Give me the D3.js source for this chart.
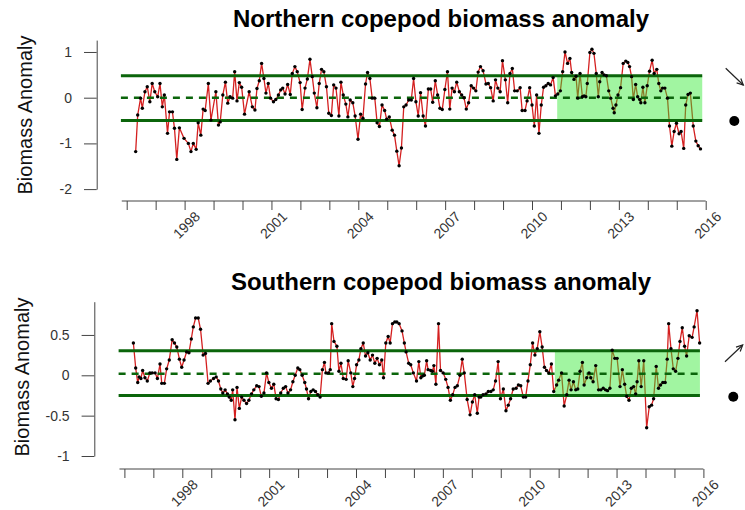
<!DOCTYPE html>
<html><head><meta charset="utf-8">
<script src="https://cdn.jsdelivr.net/npm/d3@7"></script>
<style>
html,body{margin:0;padding:0;background:#fff;}
svg{display:block;font-family:"Liberation Sans",Arial,sans-serif;}
</style></head>
<body>
<svg id="chart" width="745" height="510"></svg>
<script>
// ---------- data ----------
const northYears = [1996.31,1996.38,1996.48,1996.54,1996.63,1996.71,1996.80,1996.88,1996.97,1997.07,1997.15,1997.23,1997.30,1997.41,1997.48,1997.58,1997.65,1997.73,1997.82,1997.98,1998.13,1998.22,1998.30,1998.40,1998.47,1998.56,1998.64,1998.71,1998.82,1998.91,1999.08,1999.17,1999.23,1999.32,1999.41,1999.49,1999.57,1999.66,1999.73,1999.81,1999.89,1999.97,2000.07,2000.23,2000.34,2000.43,2000.50,2000.58,2000.66,2000.74,
2000.81,2000.89,2000.97,2001.07,2001.15,2001.24,2001.32,2001.39,2001.47,2001.56,2001.65,2001.72,2001.81,2001.89,2001.99,2002.06,2002.16,2002.24,2002.33,2002.41,2002.48,2002.57,2002.65,2002.73,2002.81,2002.90,2002.98,2003.07,2003.15,2003.23,2003.33,2003.40,2003.48,2003.57,2003.64,2003.72,2003.81,2003.89,2003.99,2004.08,2004.16,2004.25,2004.32,2004.40,2004.48,2004.57,2004.65,2004.73,2004.82,2004.91,2004.98,2005.07,2005.17,2005.25,2005.33,2005.41,2005.49,2005.57,2005.65,2005.74,2005.83,2005.91,
2005.99,2006.07,2006.15,2006.24,2006.32,2006.42,2006.50,2006.57,2006.66,2006.74,2006.82,2006.90,2006.99,2007.08,2007.16,2007.24,2007.32,2007.40,2007.49,2007.57,2007.65,2007.73,2007.81,2007.90,2007.98,2008.06,2008.14,2008.22,2008.31,2008.41,2008.49,2008.57,2008.66,2008.74,2008.82,2008.90,2008.98,2009.08,2009.16,2009.24,2009.32,2009.40,2009.49,2009.59,2009.66,2009.76,2009.83,2009.92,2010.00,2010.08,2010.16,2010.24,2010.32,2010.40,2010.48,2010.56,2010.64,2010.73,2010.81,2010.89,2010.98,2011.06,2011.14,
2011.23,2011.31,2011.37,2011.45,2011.52,2011.58,2011.66,2011.74,2011.80,2011.86,2011.91,2012.00,2012.07,2012.14,2012.22,2012.29,2012.34,2012.42,2012.49,2012.57,2012.65,2012.72,2012.80,2012.84,2012.90,2012.97,2013.06,2013.15,2013.24,2013.31,2013.37,2013.44,2013.50,2013.58,2013.65,2013.72,2013.76,2013.83,2013.90,2013.98,2014.06,2014.15,2014.22,2014.31,2014.38,2014.45,2014.51,2014.59,2014.68,2014.75,2014.83,2014.91,2014.99,2015.08,2015.15,2015.24,2015.31,2015.39,2015.47,2015.57,2015.66,2015.74,2015.82];
const northValues = [-1.18,-0.38,-0.01,-0.23,0.13,0.24,-0.09,0.31,0.13,0.02,0.31,-0.20,0.06,-0.78,-0.31,-0.31,-0.67,-1.35,-0.66,-0.89,-1.00,-1.18,-1.00,-1.13,-0.55,-0.82,-0.25,-0.28,0.31,-0.49,0.13,-0.60,-0.53,0.06,0.34,-0.12,0.02,-0.01,0.57,-0.07,0.33,0.23,-0.36,0.13,-0.20,-0.27,0.20,0.37,0.75,0.42,
0.10,0.31,-0.01,-0.09,-0.04,0.06,0.17,0.21,0.08,0.29,0.07,0.53,0.68,0.57,0.33,-0.26,0.21,0.41,0.84,0.46,0.10,-0.22,0.31,0.62,0.57,0.24,-0.34,-0.39,0.28,0.21,-0.40,0.34,0.06,-0.14,-0.42,-0.05,-0.11,-0.40,-0.91,-0.36,-0.45,0.30,0.55,0.42,-0.01,-0.01,-0.55,-0.63,-0.16,-0.28,-0.47,-0.42,-0.71,-0.82,-1.17,-1.49,-1.10,-0.20,-0.16,-0.05,-0.05,0.42,
-0.09,-0.40,0.11,-0.40,-0.62,0.19,0.19,-0.10,0.37,0.06,-0.23,-0.26,0.18,0.57,-0.25,0.21,0.13,0.34,0.13,0.06,0.00,-0.25,-0.11,0.26,0.21,0.15,0.56,0.68,0.59,0.30,0.31,0.22,-0.07,0.39,0.21,0.13,0.81,0.39,-0.11,0.53,0.64,0.15,0.15,0.22,-0.28,-0.28,-0.07,0.22,-0.16,-0.62,0.06,-0.78,-0.16,0.23,0.26,0.31,0.28,0.44,0.04,0.08,0.15,0.57,1.00,
0.75,0.86,0.55,0.40,0.47,-0.01,0.53,0.02,0.04,0.02,0.31,0.99,1.06,0.97,0.53,0.02,0.35,0.55,0.50,0.48,0.15,-0.01,-0.23,-0.33,-0.16,0.06,0.22,0.75,0.80,0.77,0.68,0.46,-0.04,0.29,0.02,-0.04,-0.11,0.23,-0.11,0.26,0.58,0.82,0.53,0.62,0.31,0.15,0.21,0.21,-0.01,-0.62,-1.06,-0.74,-0.56,-0.79,-0.74,-1.11,-0.16,0.07,0.10,-0.62,-0.95,-1.05,-1.12];

const southYears = [1996.31,1996.39,1996.46,1996.51,1996.57,1996.63,1996.71,1996.79,1996.88,1996.96,1997.06,1997.14,1997.23,1997.29,1997.38,1997.46,1997.55,1997.65,1997.73,1997.81,1997.90,1997.98,1998.06,1998.15,1998.23,1998.31,1998.38,1998.46,1998.55,1998.63,1998.72,1998.80,1998.89,1998.97,1999.08,1999.17,1999.25,1999.33,1999.40,1999.48,1999.56,1999.62,1999.69,1999.74,1999.82,1999.89,1999.97,2000.05,2000.13,2000.22,2000.30,2000.39,2000.47,2000.57,2000.65,2000.73,
2000.82,2000.91,2000.99,2001.08,2001.16,2001.24,2001.32,2001.40,2001.49,2001.57,2001.65,2001.74,2001.82,2001.90,2001.99,2002.06,2002.14,2002.23,2002.29,2002.36,2002.44,2002.52,2002.60,2002.68,2002.76,2002.84,2002.91,2002.96,2003.05,2003.11,2003.16,2003.24,2003.34,2003.41,2003.48,2003.56,2003.66,2003.73,2003.82,2003.89,2003.95,2004.02,2004.10,2004.17,2004.25,2004.33,2004.41,2004.49,2004.57,2004.65,2004.73,2004.81,2004.89,2004.95,2005.03,2005.11,2005.18,2005.26,2005.34,2005.41,2005.49,2005.59,2005.67,2005.73,2005.82,2005.89,2005.98,
2006.09,2006.17,2006.24,2006.30,2006.36,2006.44,2006.49,2006.58,2006.64,2006.69,2006.76,2006.85,2006.92,2007.01,2007.10,2007.18,2007.26,2007.34,2007.42,2007.50,2007.59,2007.67,2007.74,2007.84,2007.94,2008.02,2008.10,2008.19,2008.25,2008.31,2008.39,2008.49,2008.57,2008.66,2008.74,2008.82,2008.91,2008.99,2009.09,2009.18,2009.26,2009.34,2009.43,2009.53,2009.61,2009.69,2009.78,2009.86,2009.94,2010.02,2010.10,2010.18,2010.26,2010.35,2010.43,2010.51,2010.58,2010.66,2010.75,2010.83,2010.93,2011.00,2011.10,2011.19,
2011.28,2011.36,2011.43,2011.51,2011.59,2011.66,2011.74,2011.82,2011.88,2011.97,2012.05,2012.11,2012.19,2012.28,2012.38,2012.46,2012.54,2012.62,2012.69,2012.77,2012.85,2012.94,2013.02,2013.12,2013.20,2013.28,2013.35,2013.43,2013.51,2013.59,2013.66,2013.71,2013.77,2013.85,2013.94,2014.04,2014.13,2014.21,2014.28,2014.37,2014.45,2014.52,2014.60,2014.68,2014.75,2014.80,2014.88,2014.96,2015.04,2015.12,2015.19,2015.27,2015.35,2015.42,2015.51,2015.61,2015.68,2015.78,2015.87];
const southValues = [0.40,0.09,-0.09,-0.02,-0.04,0.06,-0.03,-0.07,0.03,0.03,0.03,-0.04,0.14,-0.10,-0.10,0.08,0.19,0.44,0.40,0.35,0.20,0.10,0.19,0.29,0.28,0.45,0.60,0.71,0.71,0.57,0.25,0.27,-0.10,-0.07,-0.04,-0.02,-0.07,-0.17,-0.22,-0.18,-0.23,-0.27,-0.31,-0.18,-0.55,-0.15,-0.41,-0.27,-0.31,-0.35,-0.31,-0.23,-0.18,-0.13,-0.14,-0.26,
-0.22,0.03,-0.09,-0.16,-0.11,-0.29,-0.30,-0.22,-0.16,-0.14,-0.22,-0.18,-0.08,0.00,0.09,0.07,0.00,-0.09,-0.17,-0.29,-0.20,-0.18,-0.20,-0.24,-0.27,0.07,0.16,0.03,0.03,0.07,0.64,0.42,0.36,0.05,0.15,-0.04,-0.05,0.18,0.03,-0.14,-0.04,0.13,0.19,0.33,0.40,0.24,0.28,0.19,0.25,0.15,0.21,0.13,0.19,-0.03,0.40,0.48,0.40,0.64,0.66,0.66,0.64,0.55,0.40,0.29,0.15,0.13,0.03,
-0.07,0.17,-0.03,-0.01,0.00,0.18,0.07,0.06,0.05,0.12,-0.11,0.64,0.06,0.03,-0.05,-0.15,-0.31,-0.24,-0.15,-0.13,0.00,0.20,0.03,-0.30,-0.49,-0.33,-0.24,-0.47,-0.27,-0.27,-0.24,-0.23,-0.20,-0.20,-0.18,-0.07,0.17,-0.29,-0.17,-0.44,-0.37,-0.29,-0.17,-0.16,-0.12,-0.13,-0.27,-0.27,-0.07,0.13,0.40,0.25,0.33,0.54,0.35,0.10,0.06,0.03,0.14,-0.20,-0.12,-0.06,0.03,-0.38,
-0.24,-0.06,-0.18,-0.08,-0.18,-0.17,0.05,0.16,-0.12,-0.03,0.03,-0.03,-0.08,0.12,-0.18,-0.18,-0.16,-0.18,-0.19,-0.16,0.31,0.21,0.21,-0.14,0.07,-0.11,-0.26,-0.31,-0.16,-0.14,-0.23,-0.08,0.18,-0.14,0.18,-0.65,-0.39,-0.37,-0.29,0.11,-0.16,-0.12,-0.09,-0.09,0.20,0.64,0.33,0.08,0.05,0.21,0.42,0.59,0.36,0.24,0.49,0.47,0.60,0.80,0.40];

const titles = ["Northern copepod biomass anomaly", "Southern copepod biomass anomaly"];
const yLabel = "Biomass Anomaly";
const yearTicks = d3.range(1996, 2017);
const labeledYears = [1998, 2001, 2004, 2007, 2010, 2013, 2016];
const northYTicks = [-2, -1, 0, 1];
const southYTicks = [-1, -0.5, 0, 0.5];
const northBand = [-0.50, 0.48];   // lower / upper reference lines
const southBand = [-0.25, 0.305];
const northMean = 0.0;
const southMean = 0.02;
const recentPeriod = [2010.87, 2015.88];   // shaded period
const lineSpan = [1995.80, 2015.88];
const trends = ["down", "up"];

// ---------- drawing ----------
const svg = d3.select("#chart");
const FONT = '"Liberation Sans",Arial,sans-serif';

const panels = [
  {years: northYears, values: northValues, title: titles[0], yTicks: northYTicks, band: northBand, mean: northMean,
   xRange: [126.7, 705.7], yDomain: [-2, 1.26], yRange: [189.1, 40.1], axisX: 96.7, axisY: 201, titleY: 27, labelX: 25, labelY: 115, trend: trends[0],
   arrow: [[725.7, 68.3], [743.3, 85]], dot: [734.3, 121]},
  {years: southYears, values: southValues, title: titles[1], yTicks: southYTicks, band: southBand, mean: southMean,
   xRange: [124.4, 703.4], yDomain: [-1, 0.912], yRange: [456.0, 301.7], axisX: 94.3, axisY: 469, titleY: 290, labelX: 22, labelY: 377, trend: trends[1],
   arrow: [[725, 361.7], [742.7, 345]], dot: [733.3, 396.7]}
];

panels.forEach(p => {
  const x = d3.scaleLinear().domain([1996, 2016]).range(p.xRange);
  const y = d3.scaleLinear().domain(p.yDomain).range(p.yRange);
  const g = svg.append("g");
  const pts = p.years.map((t, i) => [t, p.values[i]]);

  // title
  g.append("text").attr("x", 441).attr("y", p.titleY).attr("text-anchor", "middle")
    .attr("font-family", FONT).attr("font-weight", "bold").attr("font-size", 24).attr("fill", "#000").text(p.title);

  // y label
  g.append("text").attr("transform", `translate(${p.labelX},${p.labelY}) rotate(-90)`)
    .attr("text-anchor", "middle").attr("dominant-baseline", "central")
    .attr("font-family", FONT).attr("font-size", 20).attr("fill", "#111").text(yLabel);

  // data line
  g.append("path").datum(pts)
    .attr("d", d3.line().x(d => x(d[0])).y(d => y(d[1])))
    .attr("fill", "none").attr("stroke", "#d42020").attr("stroke-width", 1.3).attr("stroke-linejoin", "round");

  // shaded recent period (translucent, drawn over the line)
  g.append("rect")
    .attr("x", x(recentPeriod[0])).attr("width", x(recentPeriod[1]) - x(recentPeriod[0]))
    .attr("y", y(p.band[1])).attr("height", y(p.band[0]) - y(p.band[1]))
    .attr("fill", "#2ee82e").attr("fill-opacity", 0.45);

  // reference lines
  p.band.forEach(v => {
    g.append("line").attr("x1", x(lineSpan[0])).attr("x2", x(lineSpan[1]))
      .attr("y1", y(v)).attr("y2", y(v)).attr("stroke", "#0b650b").attr("stroke-width", 3);
  });
  g.append("line").attr("x1", x(lineSpan[0])).attr("x2", x(lineSpan[1]))
    .attr("y1", y(p.mean)).attr("y2", y(p.mean)).attr("stroke", "#0b650b").attr("stroke-width", 2.5)
    .attr("stroke-dasharray", "7,6");

  // points
  g.selectAll("circle.pt").data(pts).join("circle").attr("class", "pt")
    .attr("cx", d => x(d[0])).attr("cy", d => y(d[1])).attr("r", 1.7).attr("fill", "#000");

  // y axis
  const ya = g.append("g").attr("transform", `translate(${p.axisX},0)`)
    .call(d3.axisLeft(y).tickValues(p.yTicks).tickSizeInner(12.7).tickSizeOuter(0).tickPadding(12).tickFormat(d => String(d)));
  ya.selectAll("path.domain").attr("stroke", "#444");
  ya.selectAll(".tick line").attr("stroke", "#444");
  ya.selectAll(".tick text").attr("font-family", FONT).attr("font-size", 14).attr("fill", "#333");

  // x axis
  const xa = g.append("g").attr("transform", `translate(0,${p.axisY})`)
    .call(d3.axisBottom(x).tickValues(yearTicks).tickSizeInner(9).tickSizeOuter(0)
      .tickFormat(d => labeledYears.includes(d) ? String(d) : ""));
  xa.select("path.domain").remove();
  xa.append("line").attr("x1", x(1995.83)).attr("x2", x(2016)).attr("stroke", "#444");
  xa.selectAll(".tick line").attr("stroke", "#444");
  xa.selectAll(".tick text").attr("font-family", FONT).attr("font-size", 14).attr("fill", "#333")
    .attr("y", 0).attr("dy", "0.35em").attr("text-anchor", "middle")
    .attr("transform", "translate(1.5,24) rotate(-45)");

  // trend arrow and dot
  const [a0, a1] = p.arrow;
  const ang = Math.atan2(a1[1] - a0[1], a1[0] - a0[0]);
  const hl = 7, ha = Math.PI / 7;
  g.append("line").attr("x1", a0[0]).attr("y1", a0[1]).attr("x2", a1[0]).attr("y2", a1[1]).attr("stroke", "#222").attr("stroke-width", 1.2);
  g.append("path").attr("d",
    `M${a1[0] - hl * Math.cos(ang - ha)},${a1[1] - hl * Math.sin(ang - ha)}L${a1[0]},${a1[1]}L${a1[0] - hl * Math.cos(ang + ha)},${a1[1] - hl * Math.sin(ang + ha)}`)
    .attr("fill", "none").attr("stroke", "#222").attr("stroke-width", 1.2);
  g.append("circle").attr("cx", p.dot[0]).attr("cy", p.dot[1]).attr("r", 5).attr("fill", "#000");
});
</script>
</body></html>
